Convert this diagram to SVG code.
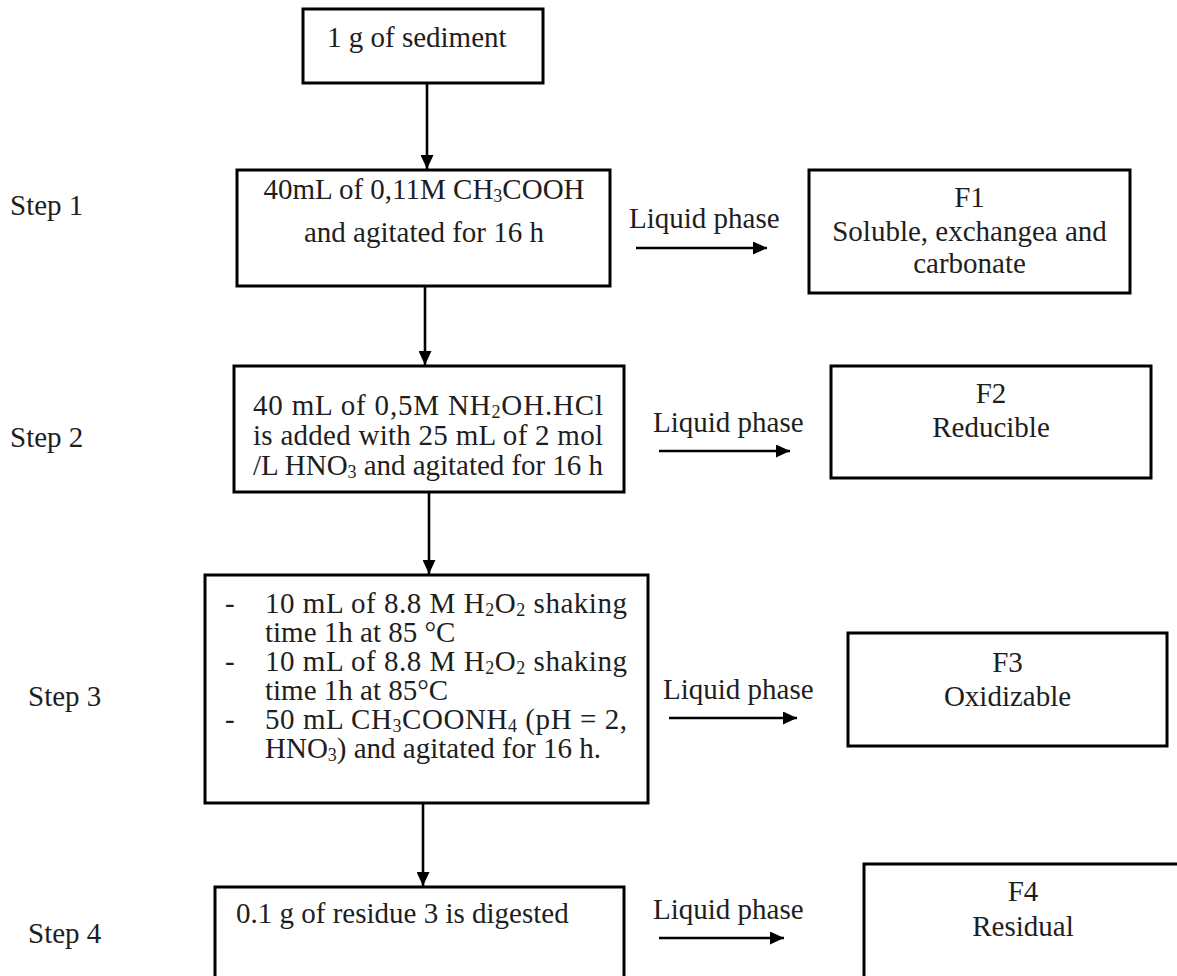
<svg xmlns="http://www.w3.org/2000/svg" width="1177" height="976" viewBox="0 0 1177 976">
<defs>
<style>
text{font-family:"Liberation Serif","Times New Roman",serif;font-size:29px;fill:#1e1e1e}
.box{fill:#fff;stroke:#000;stroke-width:3}
.c{text-anchor:middle}
.sub{font-size:18px}
.conn{stroke:#000;stroke-width:2.6;fill:none}
</style>
<marker id="ah" markerUnits="userSpaceOnUse" markerWidth="15" markerHeight="13" refX="14" refY="6.5" orient="auto">
<path d="M0,0 L14,6.5 L0,13 Z" fill="#000"/>
</marker>
</defs>
<rect width="1177" height="976" fill="#fff"/>

<g id="labels">
<text x="10" y="215">Step 1</text>
<text x="10" y="447">Step 2</text>
<text x="28" y="706">Step 3</text>
<text x="28" y="943">Step 4</text>
</g>

<g id="connectors">
<line class="conn" x1="427" y1="83" x2="427" y2="169" marker-end="url(#ah)"/>
<line class="conn" x1="425" y1="286" x2="425" y2="365" marker-end="url(#ah)"/>
<line class="conn" x1="429" y1="492" x2="429" y2="574" marker-end="url(#ah)"/>
<line class="conn" x1="423" y1="803" x2="423" y2="886" marker-end="url(#ah)"/>
<line class="conn" x1="636" y1="248" x2="767" y2="248" marker-end="url(#ah)"/>
<line class="conn" x1="659" y1="451" x2="790" y2="451" marker-end="url(#ah)"/>
<line class="conn" x1="669" y1="718" x2="797" y2="718" marker-end="url(#ah)"/>
<line class="conn" x1="659" y1="938" x2="784" y2="938" marker-end="url(#ah)"/>
<text x="629" y="228">Liquid phase</text>
<text x="653" y="432">Liquid phase</text>
<text x="663" y="699">Liquid phase</text>
<text x="653" y="919">Liquid phase</text>
</g>

<g id="sediment">
<rect class="box" x="303" y="9" width="240" height="74"/>
<text x="327" y="47">1 g of sediment</text>
</g>

<g id="step1">
<rect class="box" x="237" y="170" width="373" height="116"/>
<text class="c" x="424" y="199">40mL of 0,11M CH<tspan class="sub" dy="3">3</tspan><tspan dy="-3">COOH</tspan></text>
<text class="c" x="424" y="242">and agitated for 16 h</text>
</g>

<g id="step2">
<rect class="box" x="234" y="366" width="390" height="126"/>
<text x="253" y="415" textLength="350">40 mL of 0,5M NH<tspan class="sub" dy="3">2</tspan><tspan dy="-3">OH.HCl</tspan></text>
<text x="253" y="445" textLength="350">is added with 25 mL of 2 mol</text>
<text x="253" y="475" textLength="350">/L HNO<tspan class="sub" dy="3">3</tspan><tspan dy="-3"> and agitated for 16 h</tspan></text>
</g>

<g id="step3">
<rect class="box" x="205" y="575" width="443" height="228"/>
<text x="225" y="613">-</text>
<text x="265" y="613" textLength="362">10 mL of 8.8 M H<tspan class="sub" dy="3">2</tspan><tspan dy="-3">O</tspan><tspan class="sub" dy="3">2</tspan><tspan dy="-3"> shaking</tspan></text>
<text x="265" y="642">time 1h at 85 °C</text>
<text x="225" y="671">-</text>
<text x="265" y="671" textLength="362">10 mL of 8.8 M H<tspan class="sub" dy="3">2</tspan><tspan dy="-3">O</tspan><tspan class="sub" dy="3">2</tspan><tspan dy="-3"> shaking</tspan></text>
<text x="265" y="700">time 1h at 85°C</text>
<text x="225" y="729">-</text>
<text x="265" y="729" textLength="362">50 mL CH<tspan class="sub" dy="3">3</tspan><tspan dy="-3">COONH</tspan><tspan class="sub" dy="3">4</tspan><tspan dy="-3"> (pH = 2,</tspan></text>
<text x="265" y="758">HNO<tspan class="sub" dy="3">3</tspan><tspan dy="-3">) and agitated for 16 h.</tspan></text>
</g>

<g id="step4">
<rect class="box" x="215" y="887" width="409" height="110"/>
<text x="236" y="923">0.1 g of residue 3 is digested</text>
</g>

<g id="f1">
<rect class="box" x="809" y="170" width="321" height="123"/>
<text class="c" x="969.5" y="207">F1</text>
<text class="c" x="969.5" y="241">Soluble, exchangea and</text>
<text class="c" x="969.5" y="273">carbonate</text>
</g>

<g id="f2">
<rect class="box" x="831" y="366" width="320" height="112"/>
<text class="c" x="991" y="403">F2</text>
<text class="c" x="991" y="437">Reducible</text>
</g>

<g id="f3">
<rect class="box" x="848" y="633" width="319" height="113"/>
<text class="c" x="1007.5" y="672">F3</text>
<text class="c" x="1007.5" y="706">Oxidizable</text>
</g>

<g id="f4">
<rect class="box" x="864" y="864" width="330" height="130"/>
<text class="c" x="1023" y="901">F4</text>
<text class="c" x="1023" y="936">Residual</text>
</g>
</svg>
